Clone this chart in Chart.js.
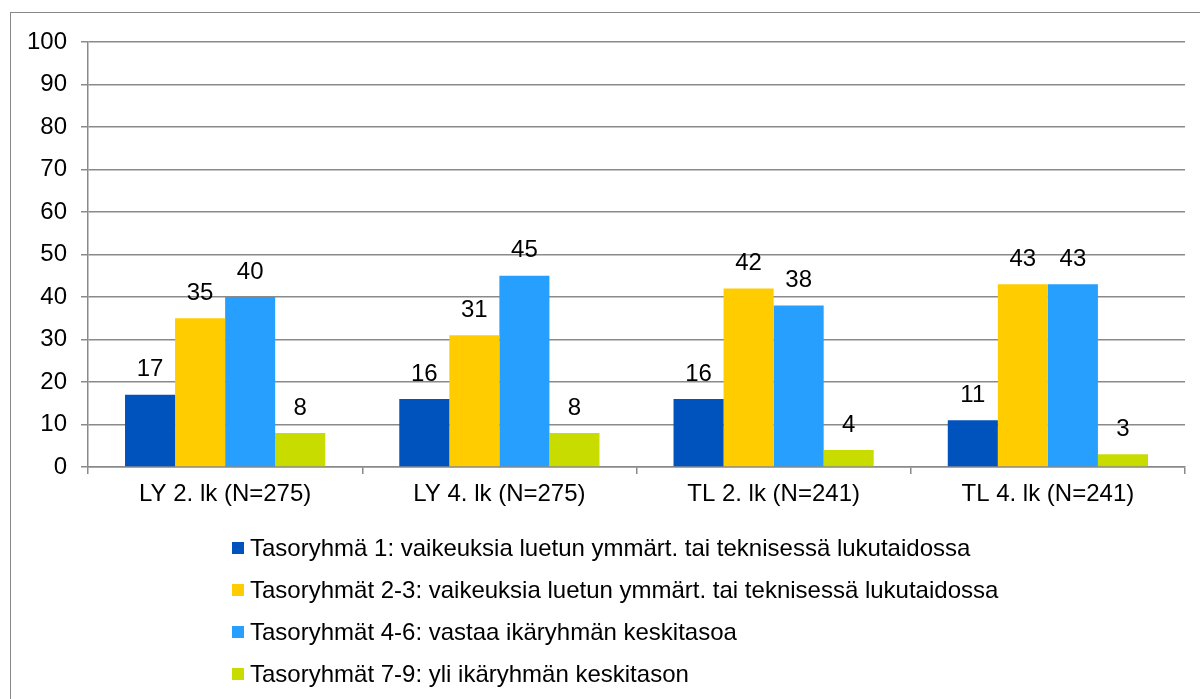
<!DOCTYPE html>
<html>
<head>
<meta charset="utf-8">
<script src="https://cdn.jsdelivr.net/npm/chart.js@4"></script>
<style>
  body { margin: 0; background: #fff; overflow: hidden; }
  #frame { position: absolute; left: 10px; top: 12px; width: 1300px; height: 800px; border: 1px solid #888; }
  #myChart { position: absolute; left: 0; top: 0; }
</style>
</head>
<body>
<div id="frame"></div>
<canvas id="myChart" width="1200" height="699"></canvas>
<script>
/* -----------data------------- */
const categories = ['LY 2. lk (N=275)', 'LY 4. lk (N=275)', 'TL 2. lk (N=241)', 'TL 4. lk (N=241)'];
const seriesNames = [
  'Tasoryhmä 1: vaikeuksia luetun ymmärt. tai teknisessä lukutaidossa',
  'Tasoryhmät 2-3: vaikeuksia luetun ymmärt. tai teknisessä lukutaidossa',
  'Tasoryhmät 4-6: vastaa ikäryhmän keskitasoa',
  'Tasoryhmät 7-9: yli ikäryhmän keskitason'
];
const group1 = [17, 16, 16, 11];
const group23 = [35, 31, 42, 43];
const group46 = [40, 45, 38, 43];
const group79 = [8, 8, 4, 3];
const colors = ['#0052bd', '#ffcc00', '#279fff', '#c9dc00'];

const font = 'Liberation Sans, Arial, sans-serif';

/* -----------plugins------------- */
const valueLabels = {
  id: 'valueLabels',
  afterDatasetsDraw(chart) {
    const ctx = chart.ctx;
    ctx.save();
    ctx.font = '24px ' + font;
    ctx.fillStyle = '#000';
    ctx.textAlign = 'center';
    ctx.textBaseline = 'middle';
    chart.data.datasets.forEach((ds, i) => {
      chart.getDatasetMeta(i).data.forEach((bar, j) => {
        ctx.fillText(ds.data[j], bar.x, bar.y - 25);
      });
    });
    ctx.restore();
  }
};

const listLegend = {
  id: 'listLegend',
  afterDraw(chart) {
    const ctx = chart.ctx;
    const x = chart.chartArea.left + 144;
    let y = chart.chartArea.bottom + 81;
    ctx.save();
    ctx.font = '24px ' + font;
    ctx.textBaseline = 'middle';
    chart.data.datasets.forEach(ds => {
      ctx.fillStyle = ds.backgroundColor;
      ctx.fillRect(x, y - 6, 12, 12);
      ctx.fillStyle = '#000';
      ctx.fillText(ds.label, x + 18, y + 1);
      y += 42;
    });
    ctx.restore();
  }
};

/* -----------chart------------- */
const values = [group1, group23, group46, group79];
const ctx = document.getElementById('myChart').getContext('2d');

const myChart = new Chart(ctx, {
  type: 'bar',
  data: {
    labels: categories,
    datasets: values.map((v, i) => ({
      label: seriesNames[i],
      data: v,
      backgroundColor: colors[i],
      categoryPercentage: 0.73,
      barPercentage: 1
    }))
  },
  options: {
    responsive: false,
    animation: false,
    layout: { padding: { left: 0, top: 42, right: 15, bottom: 182 } },
    plugins: {
      legend: { display: false },
      tooltip: { enabled: false }
    },
    scales: {
      x: {
        afterFit: s => { s.height = 50; },
        grid: { drawOnChartArea: false, drawTicks: true, tickLength: 7, color: '#8a8a8a', lineWidth: 1.5 },
        border: { color: '#8a8a8a', width: 1.5 },
        ticks: { font: { family: font, size: 24 }, color: '#000', padding: 6 }
      },
      y: {
        min: 0,
        max: 100,
        afterFit: s => { s.width = 88; },
        grid: { tickLength: 7, color: '#8a8a8a', lineWidth: 1.5 },
        border: { color: '#8a8a8a', width: 1.5 },
        ticks: { stepSize: 10, font: { family: font, size: 24 }, color: '#000', padding: 14 }
      }
    }
  },
  plugins: [valueLabels, listLegend]
});
</script>
</body>
</html>
